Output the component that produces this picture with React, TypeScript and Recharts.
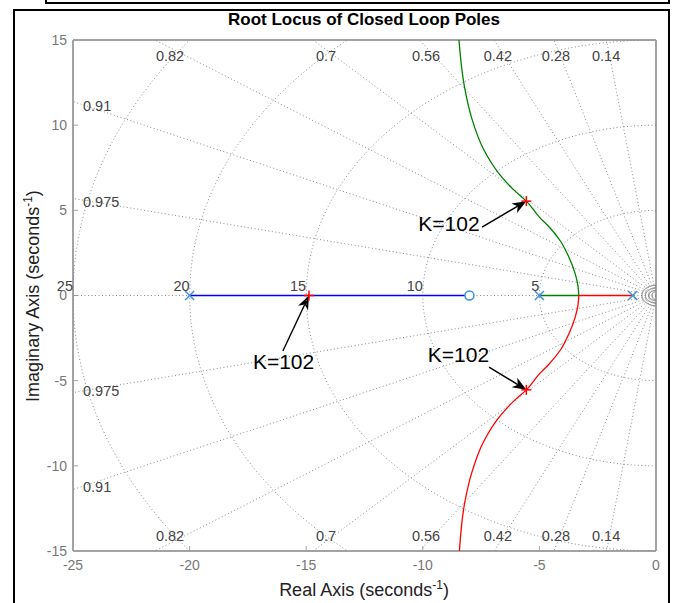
import React from "react";
import { ComposedChart, Scatter, XAxis, YAxis, ReferenceLine, ReferenceDot } from "recharts";

const FONT = 'Arial, "Liberation Sans", Helvetica, sans-serif';

const realTicks = [-25, -20, -15, -10, -5, 0];
const imagTicks = [-15, -10, -5, 0, 5, 10, 15];

// open-loop poles and zero
const poleRe = [-20, -5, -1];
const zeroRe = [-8];

// closed-loop poles at K=102
const gainRe = [-14.88, -5.56, -5.56];
const gainIm = [0, 5.54, -5.54];

// locus branches (ordered by increasing imaginary part)
const blueRe = [-20, -8];
const greenRe = [-5, -3.31];
const redRe = [-1, -3.31];
const upperRe = [-3.31, -3.35, -3.47, -3.72, -4.1, -4.6, -5.0, -5.56, -6.1, -6.7, -7.4, -7.9, -8.22, -8.45];
const upperIm = [0, 0.6, 1.3, 2.2, 3.2, 4.05, 4.6, 5.54, 6.2, 7.1, 8.6, 10.4, 12.3, 15];
const lowerRe = [-8.43, -8.22, -7.9, -7.4, -6.7, -6.1, -5.56, -5.0, -4.6, -4.1, -3.72, -3.47, -3.35, -3.31];
const lowerIm = [-15, -12.3, -10.4, -8.6, -7.1, -6.2, -5.54, -4.6, -4.05, -3.2, -2.2, -1.3, -0.6, 0];

// s-plane grid
const dampingRatios = [0.14, 0.28, 0.42, 0.56, 0.7, 0.82, 0.91, 0.975];
const naturalFreqs = [5, 10, 15, 20, 25];
const smallRings = [0.3, 0.45, 0.6];

// grid labels
const topZetaLabels = ["0.82", "0.7", "0.56", "0.42", "0.28", "0.14"];
const topZetaRe = [-20.84, -14.15, -9.86, -6.78, -4.29, -2.14];
const sideZetaLabels = ["0.91", "0.975"];
const sideZetaIm = [11.12, 5.49];

// annotations: text, text centre, arrow tail; arrow tips are the K=102 poles
const annText = ["K=102", "K=102", "K=102"];
const annPole = [1, 0, 2];
const annTextRe = [-8.88, -15.97, -8.47];
const annTextIm = [4.2, -3.85, -3.44];
const annTailRe = [-7.46, -16.0, -7.16];
const annTailIm = [4.02, -3.26, -4.2];

const axisGrey = "#a3a3a3";
const gridGrey = "#8a8a8a";
const poleBlue = "#3f8fdc";

const toPts = (xs: number[], ys: number[]) => xs.map((x, i) => ({ x, y: ys[i] }));
const onAxis = (xs: number[]) => xs.map((x) => ({ x, y: 0 }));

const arc = (r: number) => {
  const pts: { x: number; y: number }[] = [];
  for (let a = 90; a <= 270; a += 2) {
    const t = (a * Math.PI) / 180;
    pts.push({ x: r * Math.cos(t), y: r * Math.sin(t) });
  }
  return pts;
};

const ray = (z: number, sign: number) => [
  { x: 0, y: 0 },
  { x: -40 * z, y: sign * 40 * Math.sqrt(1 - z * z) },
];

const NoDot = () => <g />;

const XMark = (p: any) => (
  <g stroke={poleBlue} strokeWidth={1.5}>
    <line x1={p.cx - 4.5} y1={p.cy - 4.5} x2={p.cx + 4.5} y2={p.cy + 4.5} />
    <line x1={p.cx - 4.5} y1={p.cy + 4.5} x2={p.cx + 4.5} y2={p.cy - 4.5} />
  </g>
);

const OMark = (p: any) => <circle cx={p.cx} cy={p.cy} r={4.5} stroke={poleBlue} strokeWidth={1.5} fill="#fff" />;

const PlusMark = (p: any) => (
  <g stroke="#ff0000" strokeWidth={1.5}>
    <line x1={p.cx - 5} y1={p.cy} x2={p.cx + 5} y2={p.cy} />
    <line x1={p.cx} y1={p.cy - 5} x2={p.cx} y2={p.cy + 5} />
  </g>
);

const Arrow = (p: any) => {
  const { x1, y1, x2, y2 } = p;
  const dx = x2 - x1;
  const dy = y2 - y1;
  const len = Math.hypot(dx, dy) || 1;
  const ux = dx / len;
  const uy = dy / len;
  const hl = 14;
  const hw = 5.5;
  const bx = x2 - ux * hl;
  const by = y2 - uy * hl;
  const nx = x2 - ux * (hl - 4);
  const ny = y2 - uy * (hl - 4);
  return (
    <g>
      <line x1={x1} y1={y1} x2={nx} y2={ny} stroke="#000" strokeWidth={1.4} />
      <polygon
        points={`${x2},${y2} ${bx - uy * hw},${by + ux * hw} ${nx},${ny} ${bx + uy * hw},${by - ux * hw}`}
        fill="#000"
      />
    </g>
  );
};

const textShape = (label: string, anchor: string, size: number, color: string) => (p: any) => (
  <text
    x={p.cx}
    y={p.cy}
    textAnchor={anchor}
    dominantBaseline="central"
    fontSize={size}
    fill={color}
    fontFamily={FONT}
  >
    {label}
  </text>
);

const dotted = { stroke: gridGrey, strokeWidth: 1, strokeDasharray: "1 2.5" };
const tickFont = { fill: "#777", fontSize: 14, fontFamily: FONT };
const supStyle = { fontSize: 12, lineHeight: 0, verticalAlign: "super" as const };

export default function App() {
  return (
    <div style={{ position: "absolute", left: 0, top: 0, width: 673, height: 603, background: "#fff", overflow: "hidden", fontFamily: FONT }}>
      <div style={{ position: "absolute", left: 45, top: -11, width: 621, height: 11, border: "2px solid #000" }} />
      <div style={{ position: "absolute", left: 13, top: 9, width: 653, height: 620, border: "2px solid #000" }} />
      <div style={{ position: "absolute", left: 64, width: 600, top: 10, textAlign: "center", fontWeight: "bold", fontSize: 17, lineHeight: "20px", color: "#000" }}>
        Root Locus of Closed Loop Poles
      </div>
      <div style={{ position: "absolute", left: 164, width: 400, top: 580, textAlign: "center", fontSize: 18, lineHeight: "20px", color: "#222" }}>
        Real Axis (seconds<span style={supStyle}>-1</span>)
      </div>
      <div
        style={{
          position: "absolute",
          left: 33 - 150,
          top: 296 - 10,
          width: 300,
          textAlign: "center",
          fontSize: 18,
          lineHeight: "20px",
          color: "#222",
          transform: "rotate(-90deg)",
        }}
      >
        Imaginary Axis (seconds<span style={supStyle}>-1</span>)
      </div>
      <ComposedChart width={673} height={603} margin={{ top: 39, right: 16, bottom: 22, left: 13 }} style={{ position: "absolute", left: 0, top: 0 }}>
        <XAxis
          type="number"
          dataKey="x"
          domain={[-25, 0]}
          ticks={realTicks}
          interval={0}
          allowDataOverflow
          height={30}
          axisLine={{ stroke: axisGrey, strokeWidth: 2 }}
          tickLine={{ stroke: axisGrey }}
          tickSize={-5}
          tickMargin={14}
          tick={tickFont}
        />
        <XAxis
          xAxisId="top"
          orientation="top"
          type="number"
          dataKey="x"
          domain={[-25, 0]}
          ticks={realTicks}
          interval={0}
          allowDataOverflow
          height={1}
          axisLine={{ stroke: axisGrey, strokeWidth: 2 }}
          tickLine={{ stroke: axisGrey }}
          tickSize={-5}
          tick={false}
        />
        <YAxis
          type="number"
          dataKey="y"
          domain={[-15, 15]}
          ticks={imagTicks}
          interval={0}
          allowDataOverflow
          width={60}
          axisLine={{ stroke: axisGrey, strokeWidth: 2 }}
          tickLine={{ stroke: axisGrey }}
          tickSize={-5}
          tickMargin={11}
          tick={tickFont}
        />
        <YAxis
          yAxisId="right"
          orientation="right"
          type="number"
          dataKey="y"
          domain={[-15, 15]}
          ticks={imagTicks}
          interval={0}
          allowDataOverflow
          width={1}
          axisLine={{ stroke: axisGrey, strokeWidth: 2 }}
          tickLine={{ stroke: axisGrey }}
          tickSize={-5}
          tick={false}
        />

        {/* s-plane grid */}
        <Scatter data={onAxis([0, -25])} line={dotted} shape={NoDot} fill={gridGrey} isAnimationActive={false} />
        {naturalFreqs.map((r) => (
          <Scatter key={`w${r}`} data={arc(r)} line={dotted} shape={NoDot} fill={gridGrey} isAnimationActive={false} />
        ))}
        {smallRings.map((r) => (
          <Scatter key={`s${r}`} data={arc(r)} line={{ stroke: "#777", strokeWidth: 1 }} shape={NoDot} fill={gridGrey} isAnimationActive={false} />
        ))}
        {dampingRatios.map((z) => (
          <Scatter key={`zu${z}`} data={ray(z, 1)} line={dotted} shape={NoDot} fill={gridGrey} isAnimationActive={false} />
        ))}
        {dampingRatios.map((z) => (
          <Scatter key={`zl${z}`} data={ray(z, -1)} line={dotted} shape={NoDot} fill={gridGrey} isAnimationActive={false} />
        ))}

        {/* locus branches */}
        <Scatter data={onAxis(blueRe)} line={{ stroke: "#0000ff", strokeWidth: 1.3 }} shape={NoDot} fill="#0000ff" isAnimationActive={false} />
        <Scatter data={onAxis(greenRe)} line={{ stroke: "#008000", strokeWidth: 1.3 }} shape={NoDot} fill="#008000" isAnimationActive={false} />
        <Scatter data={onAxis(redRe)} line={{ stroke: "#ff0000", strokeWidth: 1.3 }} shape={NoDot} fill="#ff0000" isAnimationActive={false} />
        <Scatter data={toPts(upperRe, upperIm)} line={{ stroke: "#008000", strokeWidth: 1.3 }} lineJointType="monotoneY" shape={NoDot} fill="#008000" isAnimationActive={false} />
        <Scatter data={toPts(lowerRe, lowerIm)} line={{ stroke: "#ff0000", strokeWidth: 1.3 }} lineJointType="monotoneY" shape={NoDot} fill="#ff0000" isAnimationActive={false} />

        {/* markers */}
        <Scatter data={onAxis(poleRe)} shape={XMark} fill={poleBlue} isAnimationActive={false} />
        <Scatter data={onAxis(zeroRe)} shape={OMark} fill={poleBlue} isAnimationActive={false} />
        <Scatter data={toPts(gainRe, gainIm)} shape={PlusMark} fill="#ff0000" isAnimationActive={false} />

        {/* grid labels */}
        {naturalFreqs.map((r) => (
          <ReferenceDot key={`wl${r}`} x={-r} y={0.55} r={0} ifOverflow="visible" shape={textShape(String(r), "end", 14.5, "#444")} />
        ))}
        {topZetaLabels.map((t, i) => (
          <ReferenceDot key={`zt${t}`} x={topZetaRe[i]} y={14.05} r={0} ifOverflow="visible" shape={textShape(t, "middle", 14.5, "#444")} />
        ))}
        {topZetaLabels.map((t, i) => (
          <ReferenceDot key={`zb${t}`} x={topZetaRe[i]} y={-14.1} r={0} ifOverflow="visible" shape={textShape(t, "middle", 14.5, "#444")} />
        ))}
        {sideZetaLabels.map((t, i) => (
          <ReferenceDot key={`zsu${t}`} x={-24.57} y={sideZetaIm[i]} r={0} ifOverflow="visible" shape={textShape(t, "start", 14.5, "#444")} />
        ))}
        {sideZetaLabels.map((t, i) => (
          <ReferenceDot key={`zsl${t}`} x={-24.57} y={-sideZetaIm[i] - 0.1} r={0} ifOverflow="visible" shape={textShape(t, "start", 14.5, "#444")} />
        ))}

        {/* annotations */}
        {annText.map((t, i) => (
          <ReferenceLine
            key={`a${i}`}
            segment={[
              { x: annTailRe[i], y: annTailIm[i] },
              { x: gainRe[annPole[i]], y: gainIm[annPole[i]] },
            ]}
            ifOverflow="visible"
            shape={Arrow}
          />
        ))}
        {annText.map((t, i) => (
          <ReferenceDot key={`at${i}`} x={annTextRe[i]} y={annTextIm[i]} r={0} ifOverflow="visible" shape={textShape(t, "middle", 21, "#000")} />
        ))}
      </ComposedChart>
    </div>
  );
}
